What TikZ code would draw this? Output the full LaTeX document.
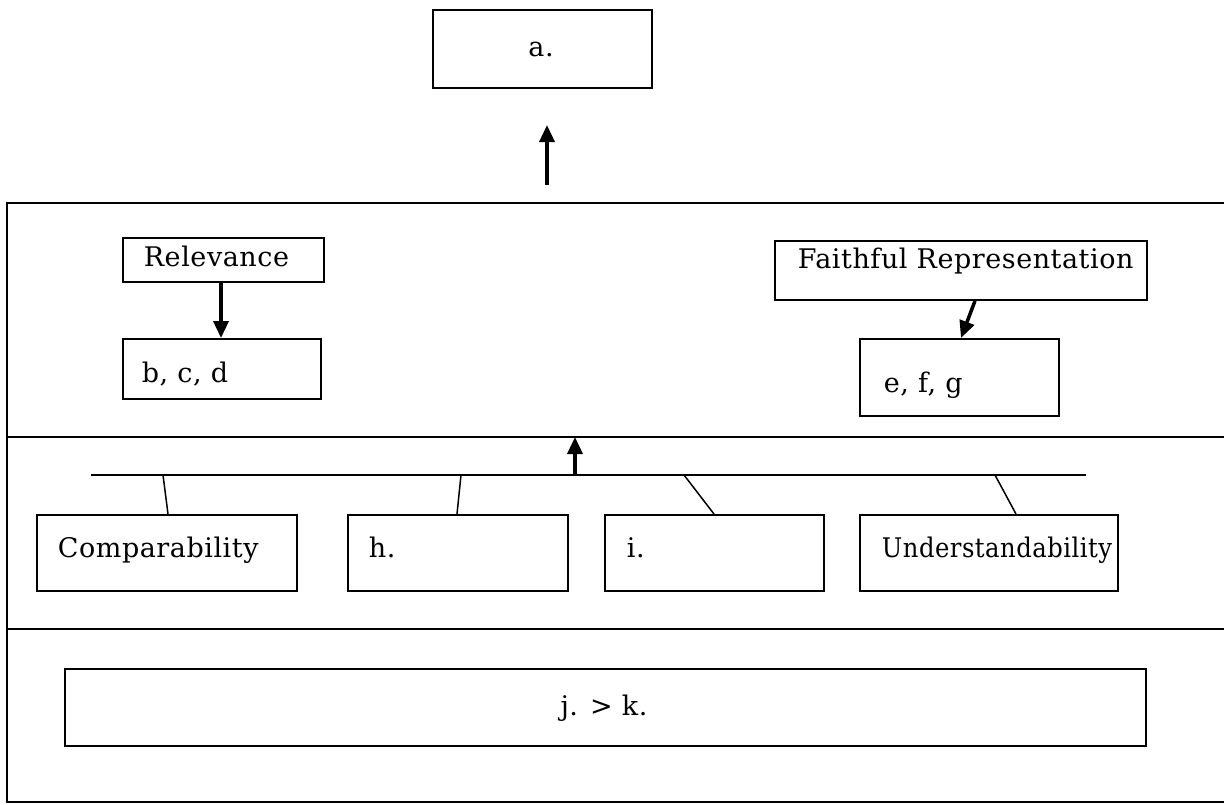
\documentclass[tikz,border=0pt]{standalone}
\usepackage{fontspec}
\setmainfont[LetterSpace=2]{DejaVu Serif}
\usetikzlibrary{arrows.meta}
\begin{document}
\begin{tikzpicture}[x=1pt,y=-1pt,line width=1.8pt,
  box/.style={draw,line width=1.8pt,inner sep=0pt,anchor=north west},
  txt/.style={inner sep=0pt,font=\fontsize{27}{32}\selectfont},
  arr/.style={-{Triangle[length=17pt,width=15pt]},line width=3.5pt},
  link/.style={line width=1.5pt}]
\useasboundingbox (0,0) rectangle (1224,804);
% frame
\coordinate (ftl) at (7,203);
\coordinate (ftr) at (1224,203);
\coordinate (fbl) at (7,802);
\coordinate (fbr) at (1224,802);
\coordinate (m1l) at (7,437);
\coordinate (m1r) at (1224,437);
\coordinate (m2l) at (7,629);
\coordinate (m2r) at (1224,629);
\draw (ftr) -- (ftl) -- (fbl) -- (fbr);
\draw (m1l) -- (m1r);
\draw (m2l) -- (m2r);
% top box
\node[box,minimum width=219pt,minimum height=78pt] (a) at (432,9) {};
\node[txt,anchor=base] (aT) at (541,56) {a.};
\coordinate (u0) at (547,185);
\coordinate (u1) at (547,125);
\draw[arr] (u0) -- (u1);
% relevance
\node[box,minimum width=201pt,minimum height=44pt] (rel) at (122,237) {};
\node[txt,anchor=base west] (relT) at (143,266) {Relevance};
\node[box,minimum width=198pt,minimum height=60pt] (bcd) at (122,338) {};
\node[txt,anchor=base west] (bcdT) at (141,382) {b, c, d};
\draw[arr] (rel.south -| 221,0) -- (bcd.north -| 221,0);
% faithful
\node[box,minimum width=372pt,minimum height=59pt] (fr) at (774,240) {};
\node[txt,anchor=base west] (frT) at (797,268) {Faithful Representation};
\node[box,minimum width=199pt,minimum height=77pt] (efg) at (859,338) {};
\node[txt,anchor=base west] (efgT) at (883,392) {e, f, g};
\draw[arr] (fr.south -| 975,0) -- (efg.north -| 961,0);
% bus
\coordinate (busL) at (91,475);
\coordinate (busR) at (1086,475);
\draw[link] (busL) -- (busR);
\coordinate (busU) at (575,475);
\coordinate (busT) at (575,437);
\draw[arr] (busU) -- (busT);
% enhancing boxes
\node[box,minimum width=260pt,minimum height=76pt] (cmp) at (36,514) {};
\node[txt,anchor=base west] (cmpT) at (57,557) {Comparability};
\node[box,minimum width=220pt,minimum height=76pt] (h) at (347,514) {};
\node[txt,anchor=base west] (hT) at (368,557) {h.};
\node[box,minimum width=219pt,minimum height=76pt] (i) at (604,514) {};
\node[txt,anchor=base west] (iT) at (626,557) {i.};
\node[box,minimum width=258pt,minimum height=76pt] (und) at (859,514) {};
\node[txt,anchor=base west] (undT) at (881,557) {\scalebox{0.9}[1]{Understandability}};
\coordinate (b1) at (163,475);
\coordinate (b2) at (461,475);
\coordinate (b3) at (684,475);
\coordinate (b4) at (995,475);
\draw[link] (b1) -- (cmp.north -| 168,0);
\draw[link] (b2) -- (h.north -| 457,0);
\draw[link] (b3) -- (i.north -| 714,0);
\draw[link] (b4) -- (und.north -| 1016,0);
% bottom
\node[box,minimum width=1081pt,minimum height=77pt] (jk) at (64,668) {};
\node[txt,anchor=base] (jkT) at (604,715) {j. > k.};
\end{tikzpicture}
\end{document}
